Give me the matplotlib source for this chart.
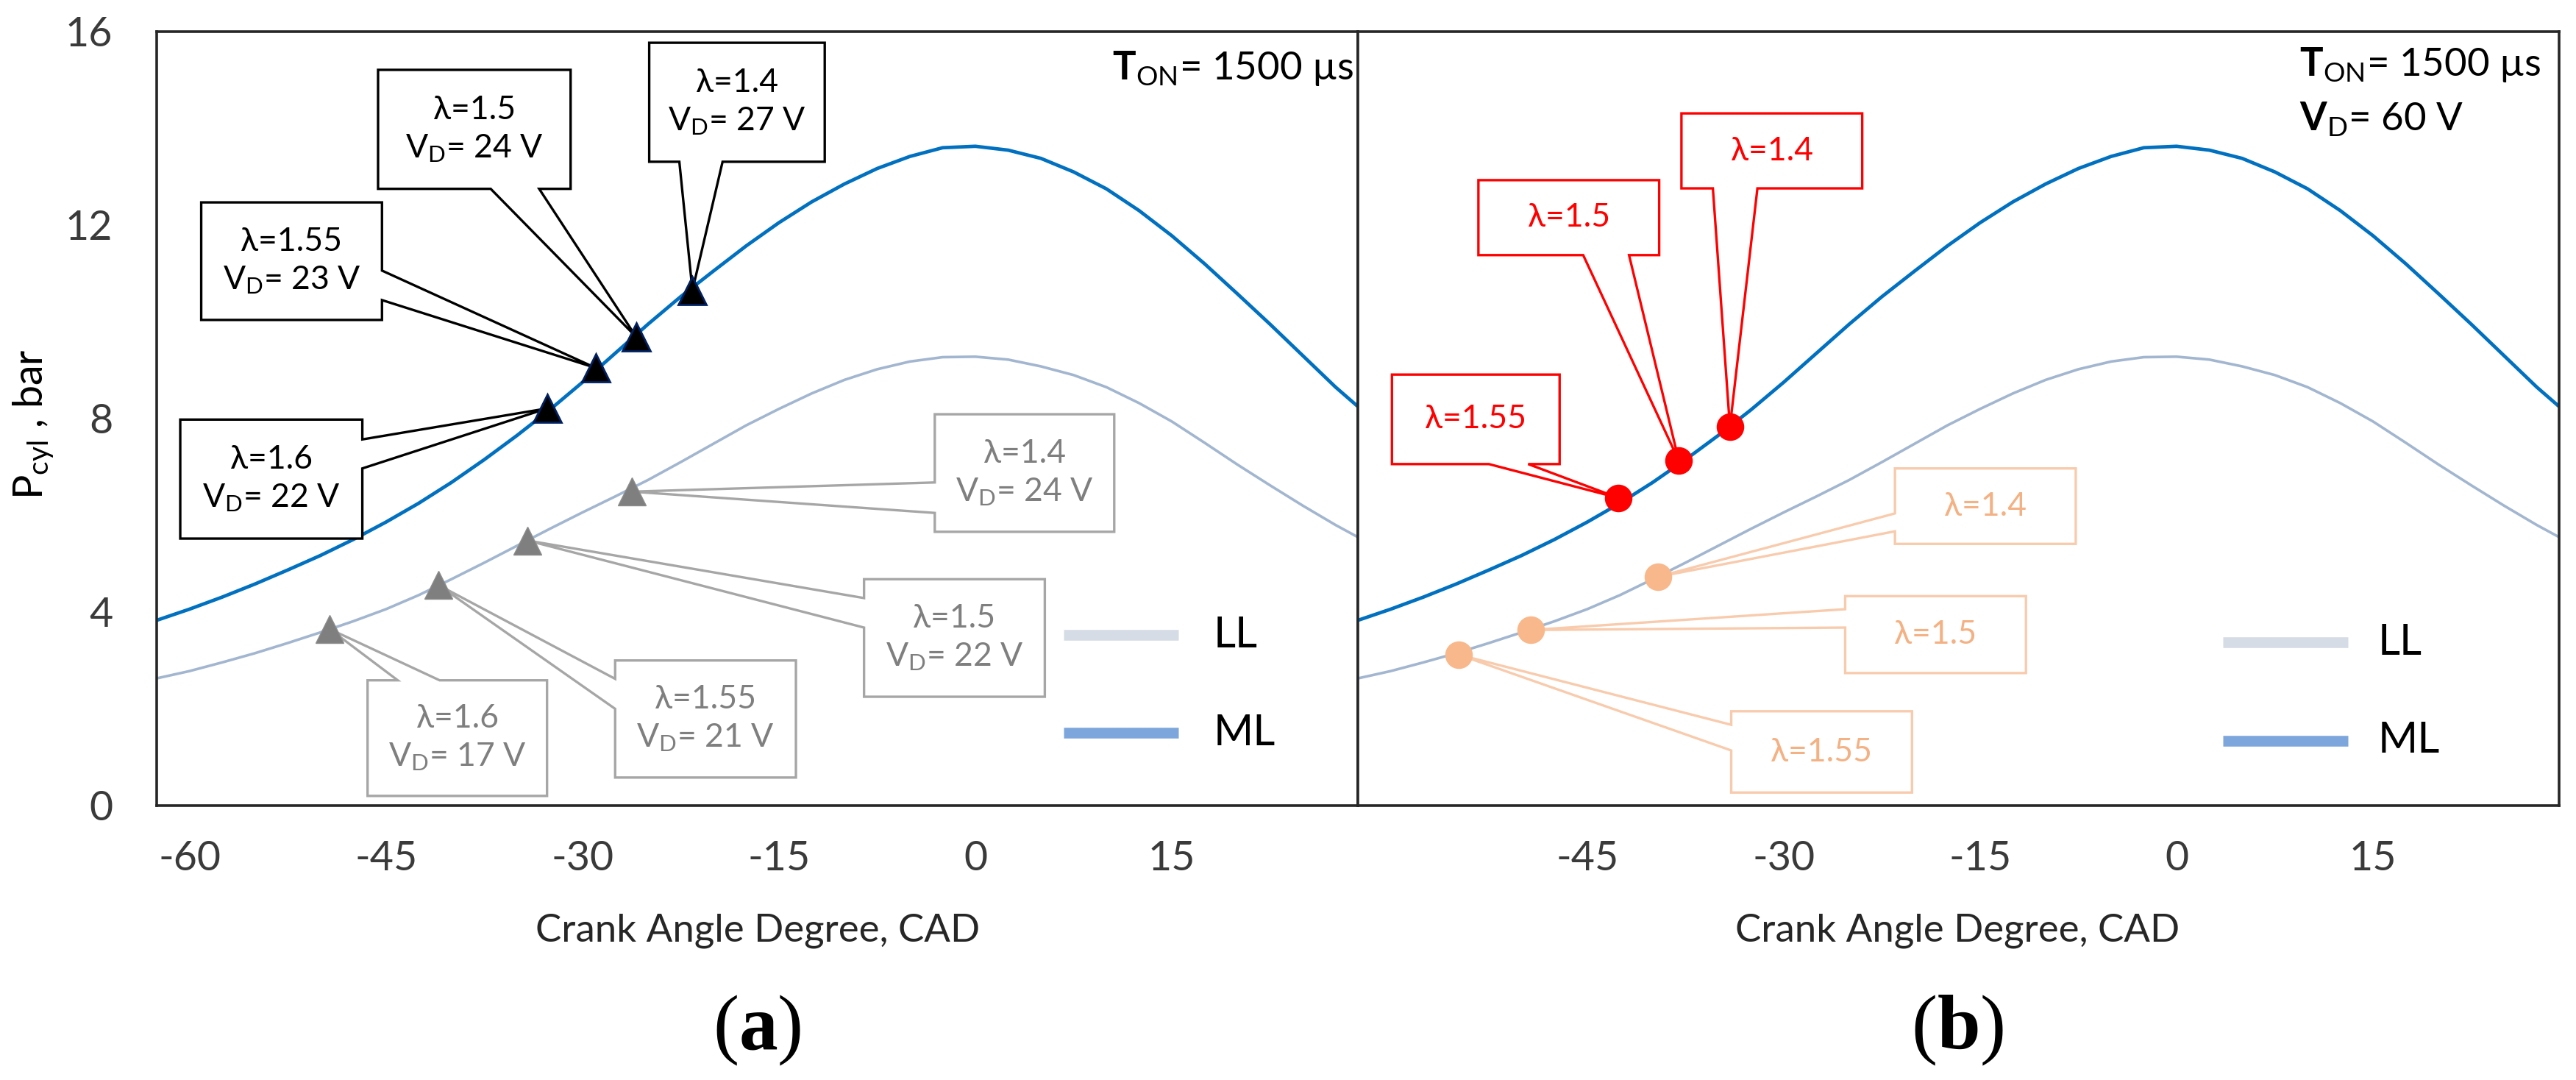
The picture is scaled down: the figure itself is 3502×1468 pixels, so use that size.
import matplotlib
matplotlib.use('Agg')  # headless
import matplotlib.pyplot as plt
from matplotlib.patches import Polygon

plt.rcParams['font.family'] = ['Lato', 'DejaVu Sans']
plt.rcParams['mathtext.fontset'] = 'custom'
plt.rcParams['mathtext.rm'] = 'Lato'
plt.rcParams['mathtext.sf'] = 'Lato:bold'
plt.rcParams['mathtext.bf'] = 'Liberation Serif:bold'
plt.rcParams['mathtext.default'] = 'regular'
plt.rcParams['axes.unicode_minus'] = False

# Cylinder pressure traces (bar) vs crank angle
cad = [-62.5, -60, -57.5, -55, -52.5, -50, -47.5, -45, -42.5, -40, -37.5, -35,
       -32.5, -30, -27.5, -25, -22.5, -20, -17.5, -15, -12.5, -10, -7.5, -5,
       -2.5, 0, 2.5, 5, 7.5, 10, 12.5, 15, 17.5, 20, 22.5, 25, 27.5, 29.2]
p_ml = [3.83, 4.06, 4.31, 4.58, 4.87, 5.17, 5.5, 5.86, 6.25, 6.68, 7.15, 7.65,
        8.18, 8.75, 9.35, 9.95, 10.52, 11.05, 11.57, 12.05, 12.48, 12.85, 13.17, 13.42,
        13.6, 13.63, 13.55, 13.38, 13.1, 12.75, 12.3, 11.78, 11.2, 10.58, 9.95, 9.3, 8.65, 8.25]
p_ll = [2.63, 2.78, 2.96, 3.15, 3.36, 3.58, 3.81, 4.06, 4.35, 4.68, 5.02, 5.37,
        5.72, 6.06, 6.39, 6.73, 7.1, 7.48, 7.86, 8.2, 8.52, 8.8, 9.02, 9.18,
        9.27, 9.28, 9.22, 9.08, 8.9, 8.65, 8.32, 7.94, 7.5, 7.05, 6.62, 6.2, 5.8, 5.55]

# (a) T_ON = 1500 us, ignition points at the minimum V_D for each lambda
lam_a = [1.6, 1.55, 1.5, 1.4]
cad_ml_a = [-32.7, -29.0, -25.9, -21.6]
p_ml_a = [8.21, 9.05, 9.69, 10.65]
vd_ml_a = [22, 23, 24, 27]
cad_ll_a = [-49.3, -41.0, -34.2, -26.2]
p_ll_a = [3.65, 4.56, 5.48, 6.49]
vd_ll_a = [17, 21, 22, 24]

# (b) T_ON = 1500 us, V_D = 60 V
lam_b = [1.55, 1.5, 1.4]
cad_ml_b = [-42.6, -38.0, -34.1]
p_ml_b = [6.36, 7.13, 7.83]
cad_ll_b = [-54.8, -49.3, -39.6]
p_ll_b = [3.12, 3.63, 4.73]

xticks_a = [-60, -45, -30, -15, 0, 15]
xticks_b = [-45, -30, -15, 0, 15]
yticks = [0, 4, 8, 12, 16]

# callout boxes: x0, x1, y0, y1, side of the pointer, pointer base (a, b)
box_ml_a = [(-60.7, -46.8, 5.52, 7.98, 'right', 6.97, 7.57),
            (-59.1, -45.3, 10.04, 12.47, 'right', 10.45, 11.06),
            (-45.6, -30.9, 12.75, 15.21, 'bottom', -37.0, -33.3),
            (-24.9, -11.5, 13.31, 15.77, 'bottom', -22.6, -19.3)]
box_ll_a = [(-46.4, -32.7, 0.2, 2.59, 'top', -44.1, -40.9),
            (-27.5, -13.7, 0.58, 3.0, 'left', 2.0, 2.62),
            (-8.5, 5.3, 2.25, 4.68, 'left', 3.68, 4.29),
            (-3.1, 10.6, 5.66, 8.09, 'left', 6.05, 6.68)]
box_ml_b = [(-59.9, -47.1, 7.06, 8.91, 'bottom', -52.5, -49.5),
            (-53.3, -39.5, 11.38, 12.93, 'bottom', -45.3, -41.8),
            (-37.8, -24.0, 12.76, 14.31, 'bottom', -35.4, -32.0)]
box_ll_b = [(-34.0, -20.2, 0.27, 1.95, 'left', 1.14, 1.67),
            (-25.3, -11.5, 2.74, 4.33, 'left', 3.68, 4.06),
            (-21.5, -7.7, 5.41, 6.97, 'left', 5.67, 6.04)]

ML_COLOR = '#0070C0'
LL_COLOR = '#A2B6D0'


def callout(ax, box, tip, text, edge, tcolor):
    x0, x1, y0, y1, side, a, b = box
    pts = [(x0, y0)]
    if side == 'bottom':
        pts += [(a, y0), tip, (b, y0)]
    pts.append((x1, y0))
    if side == 'right':
        pts += [(x1, a), tip, (x1, b)]
    pts.append((x1, y1))
    if side == 'top':
        pts += [(b, y1), tip, (a, y1)]
    pts.append((x0, y1))
    if side == 'left':
        pts += [(x0, b), tip, (x0, a)]
    ax.add_patch(Polygon(pts, closed=True, facecolor='white', edgecolor=edge,
                         lw=2.4, zorder=4, joinstyle='miter'))
    ax.text((x0 + x1) / 2, (y0 + y1) / 2, text, color=tcolor, fontsize=32,
            ha='center', va='center', zorder=5, linespacing=1.3)


def legend_key(ax, x0, x1, xt, ys):
    for y, c, lab in zip(ys, ['#D6DCE5', '#7DA6DC'], ['LL', 'ML']):
        ax.plot([x0, x1], [y, y], color=c, lw=10.5, solid_capstyle='butt',
                transform=ax.transAxes, zorder=3)
        ax.text(xt, y, lab, fontsize=42, va='center', ha='left',
                transform=ax.transAxes)


fig = plt.figure(figsize=(35.02, 14.68), dpi=100)
ax_a = fig.add_axes([0.06082, 0.25409, 0.46631, 0.71662])
ax_b = fig.add_axes([0.52713, 0.25409, 0.46631, 0.71662])

for ax in (ax_a, ax_b):
    ax.plot(cad, p_ll, color=LL_COLOR, lw=2.6, zorder=2)
    ax.plot(cad, p_ml, color=ML_COLOR, lw=3.4, zorder=2)
    ax.set_xlim(-62.5, 29.2)
    ax.set_ylim(0, 16)
    ax.set_yticks(yticks)
    ax.tick_params(length=0, labelsize=40, labelcolor='#3a3a3a')
    ax.tick_params(axis='x', pad=34)
    ax.tick_params(axis='y', pad=43)
    for s in ax.spines.values():
        s.set_linewidth(2.6)
        s.set_color('#262626')

ax_a.set_xticks(xticks_a)
ax_b.set_xticks(xticks_b)
ax_b.set_yticklabels([])

# (a) callouts and markers
for i in range(len(lam_a)):
    callout(ax_a, box_ml_a[i], (cad_ml_a[i], p_ml_a[i]),
            'λ=%g\nV$_D$= %d V' % (lam_a[i], vd_ml_a[i]), 'black', 'black')
    callout(ax_a, box_ll_a[i], (cad_ll_a[i], p_ll_a[i]),
            'λ=%g\nV$_D$= %d V' % (lam_a[i], vd_ll_a[i]), '#A6A6A6', '#7F7F7F')
ax_a.plot(cad_ml_a, p_ml_a, ls='none', marker='^', ms=27, mfc='black',
          mec='#002060', mew=2, zorder=6)
ax_a.plot(cad_ll_a, p_ll_a, ls='none', marker='^', ms=27, mfc='#7F7F7F',
          mec='#8C8C8C', mew=1, zorder=6)

# (b) callouts and markers
for i in range(len(lam_b)):
    callout(ax_b, box_ml_b[i], (cad_ml_b[i], p_ml_b[i]),
            'λ=%g' % lam_b[i], '#FF0000', '#FF0000')
    callout(ax_b, box_ll_b[i], (cad_ll_b[i], p_ll_b[i]),
            'λ=%g' % lam_b[i], '#F8CBAD', '#F4B183')
ax_b.plot(cad_ml_b, p_ml_b, ls='none', marker='o', ms=26, mfc='#FF0000',
          mec='#FF0000', zorder=6)
ax_b.plot(cad_ll_b, p_ll_b, ls='none', marker='o', ms=26, mfc='#F8B88B',
          mec='#F8B88B', zorder=6)

legend_key(ax_a, 0.755, 0.8506, 0.88, [0.2205, 0.0941])
legend_key(ax_b, 0.7201, 0.8243, 0.8494, [0.211, 0.0837])

ax_a.text(0.7955, 0.938, r'$\mathsf{T}_{\mathrm{ON}}$= 1500 µs', fontsize=38,
          va='baseline', transform=ax_a.transAxes)
ax_b.text(0.7838, 0.943, r'$\mathsf{T}_{\mathrm{ON}}$= 1500 µs', fontsize=38,
          va='baseline', transform=ax_b.transAxes)
ax_b.text(0.7838, 0.8717, r'$\mathsf{V}_{\mathrm{D}}$= 60 V', fontsize=38,
          va='baseline', transform=ax_b.transAxes)

fig.text(0.0131, 0.607, 'P$_{cyl}$ , bar', rotation=90, fontsize=40,
         ha='center', va='center')
fig.text(0.294, 0.138, 'Crank Angle Degree, CAD', fontsize=38, color='#262626',
         ha='center', va='center')
fig.text(0.760, 0.138, 'Crank Angle Degree, CAD', fontsize=38, color='#262626',
         ha='center', va='center')
fig.text(0.294, 0.046, r'($\mathbf{a}$)', fontsize=76, family='Liberation Serif',
         ha='center', va='center')
fig.text(0.760, 0.046, r'($\mathbf{b}$)', fontsize=76, family='Liberation Serif',
         ha='center', va='center')

fig.savefig('out.png', dpi=100)
